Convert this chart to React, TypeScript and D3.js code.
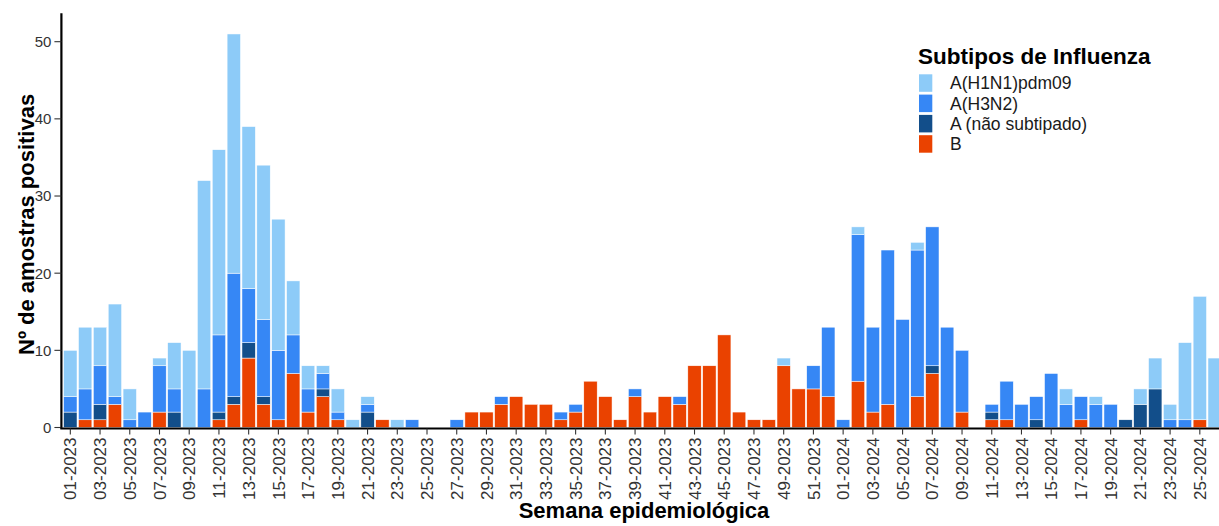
import React from "react";
import * as d3 from "d3";

// Epidemiological weeks: 01-2023 .. 52-2023, 01-2024 .. 26-2024
const weeks2023 = d3.range(1, 53).map((w) => `${String(w).padStart(2, "0")}-2023`);
const weeks2024 = d3.range(1, 27).map((w) => `${String(w).padStart(2, "0")}-2024`);
const weeks = [...weeks2023, ...weeks2024];

// Series values (stacked bottom to top: B, A não subtipado, A(H3N2), A(H1N1)pdm09)
const seriesB = [
  0, 1, 1, 3, 0, 0, 2, 0, 0, 0, 1, 3, 9, 3, 1, 7, 2, 4, 1, 0, 0, 1, 0, 0, 0, 0,
  0, 2, 2, 3, 4, 3, 3, 1, 2, 6, 4, 1, 4, 2, 4, 3, 8, 8, 12, 2, 1, 1, 8, 5, 5, 4,
  0, 6, 2, 3, 0, 4, 7, 0, 2, 0, 1, 1, 0, 0, 0, 0, 1, 0, 0, 0, 0, 0, 0, 0, 1, 0,
];
const seriesANS = [
  2, 0, 2, 0, 0, 0, 0, 2, 0, 0, 1, 1, 2, 1, 0, 0, 0, 1, 0, 0, 2, 0, 0, 0, 0, 0,
  0, 0, 0, 0, 0, 0, 0, 0, 0, 0, 0, 0, 0, 0, 0, 0, 0, 0, 0, 0, 0, 0, 0, 0, 0, 0,
  0, 0, 0, 0, 0, 0, 1, 0, 0, 0, 1, 0, 0, 1, 0, 0, 0, 0, 0, 1, 3, 5, 0, 0, 0, 0,
];
const seriesH3N2 = [
  2, 4, 5, 1, 1, 2, 6, 3, 0, 5, 10, 16, 7, 10, 9, 5, 3, 2, 1, 0, 1, 0, 0, 1, 0, 0,
  1, 0, 0, 1, 0, 0, 0, 1, 1, 0, 0, 0, 1, 0, 0, 1, 0, 0, 0, 0, 0, 0, 0, 0, 3, 9,
  1, 19, 11, 20, 14, 19, 18, 13, 8, 0, 1, 5, 3, 3, 7, 3, 3, 3, 3, 0, 0, 0, 1, 1, 0, 0,
];
const seriesH1N1 = [
  6, 8, 5, 12, 4, 0, 1, 6, 10, 27, 24, 31, 21, 20, 17, 7, 3, 1, 3, 1, 1, 0, 1, 0, 0, 0,
  0, 0, 0, 0, 0, 0, 0, 0, 0, 0, 0, 0, 0, 0, 0, 0, 0, 0, 0, 0, 0, 0, 1, 0, 0, 0,
  0, 1, 0, 0, 0, 1, 0, 0, 0, 0, 0, 0, 0, 0, 0, 2, 0, 1, 0, 0, 2, 4, 2, 10, 16, 9,
];

const yTicks = [0, 10, 20, 30, 40, 50];

const keys = ["B", "ANS", "H3N2", "H1N1"];
const colors: Record<string, string> = {
  H1N1: "#8DCBF8",
  H3N2: "#3687F5",
  ANS: "#124E8A",
  B: "#EA4200",
};
const legendItems = [
  { key: "H1N1", label: "A(H1N1)pdm09" },
  { key: "H3N2", label: "A(H3N2)" },
  { key: "ANS", label: "A (não subtipado)" },
  { key: "B", label: "B" },
];

const FONT = "'Liberation Sans', Arial, Helvetica, sans-serif";

export default function App() {
  const W = 1219;
  const H = 526;
  const rows = weeks.map((w, i) => ({
    week: w,
    B: seriesB[i],
    ANS: seriesANS[i],
    H3N2: seriesH3N2[i],
    H1N1: seriesH1N1[i],
  }));
  const stacked = d3.stack<any>().keys(keys)(rows);

  const x = d3
    .scaleBand<string>()
    .domain(weeks)
    .range([61.4, 1223.6])
    .paddingInner(0.1)
    .paddingOuter(0.15);
  const y = d3.scaleLinear().domain([0, 53.55]).range([427.5, 14.3]);

  const bw = x.bandwidth();
  const tickWeeks = weeks.filter((_, i) => i % 2 === 0);
  const x0 = 61.4;
  const yBase = y(0);

  return (
    <div style={{ position: "absolute", left: 0, top: 0 }}>
      <svg width={W} height={H} style={{ display: "block", fontFamily: FONT }}>
        <rect x={0} y={0} width={W} height={H} fill="#ffffff" />
        {/* bars */}
        {stacked.map((s) => (
          <g key={s.key} fill={colors[s.key]}>
            {s.map((d, i) =>
              d[1] - d[0] > 0 ? (
                <rect
                  key={i}
                  x={x(weeks[i])}
                  y={y(d[1])}
                  width={bw}
                  height={y(d[0]) - y(d[1])}
                  stroke="#ffffff"
                  strokeWidth={0.5}
                />
              ) : null
            )}
          </g>
        ))}
        {/* y axis */}
        <line x1={x0} x2={x0} y1={13.3} y2={yBase + 1} stroke="#000" strokeWidth={2.2} />
        {yTicks.map((t) => (
          <g key={t} transform={`translate(0,${y(t)})`}>
            <line x1={x0 - 7} x2={x0} stroke="#333" strokeWidth={1.1} />
            <text
              x={x0 - 10}
              dy="0.36em"
              textAnchor="end"
              fontSize={15}
              fill="#333"
            >
              {t}
            </text>
          </g>
        ))}
        {/* x axis */}
        <line x1={x0 - 1.1} x2={W} y1={yBase + 1} y2={yBase + 1} stroke="#000" strokeWidth={2.2} />
        {tickWeeks.map((w) => {
          const cx = (x(w) as number) + bw / 2;
          return (
            <g key={w}>
              <line x1={cx} x2={cx} y1={yBase + 1} y2={yBase + 7} stroke="#333" strokeWidth={1.1} />
              <text
                transform={`translate(${cx},${yBase + 10}) rotate(-90)`}
                textAnchor="end"
                dy="0.36em"
                fontSize={17}
                fill="#333"
              >
                {w}
              </text>
            </g>
          );
        })}
        {/* axis titles */}
        <text
          x={644}
          y={518}
          textAnchor="middle"
          fontSize={22}
          fontWeight="bold"
          fill="#000"
        >
          Semana epidemiológica
        </text>
        <text
          transform={`translate(34.3,${(13.3 + yBase) / 2 + 4}) rotate(-90)`}
          textAnchor="middle"
          fontSize={22}
          fontWeight="bold"
          fill="#000"
        >
          Nº de amostras positivas
        </text>
        {/* legend */}
        <text x={918} y={64.3} fontSize={22.5} fontWeight="bold" fill="#000">
          Subtipos de Influenza
        </text>
        {legendItems.map((it, i) => {
          const ky = 74.3 + i * 20.3;
          return (
            <g key={it.key}>
              <rect x={919} y={ky} width={13.3} height={17.5} fill={colors[it.key]} />
              <text
                x={950}
                y={ky + 8.75}
                dy="0.36em"
                fontSize={17.5}
                fill="#1a1a1a"
              >
                {it.label}
              </text>
            </g>
          );
        })}
      </svg>
    </div>
  );
}
